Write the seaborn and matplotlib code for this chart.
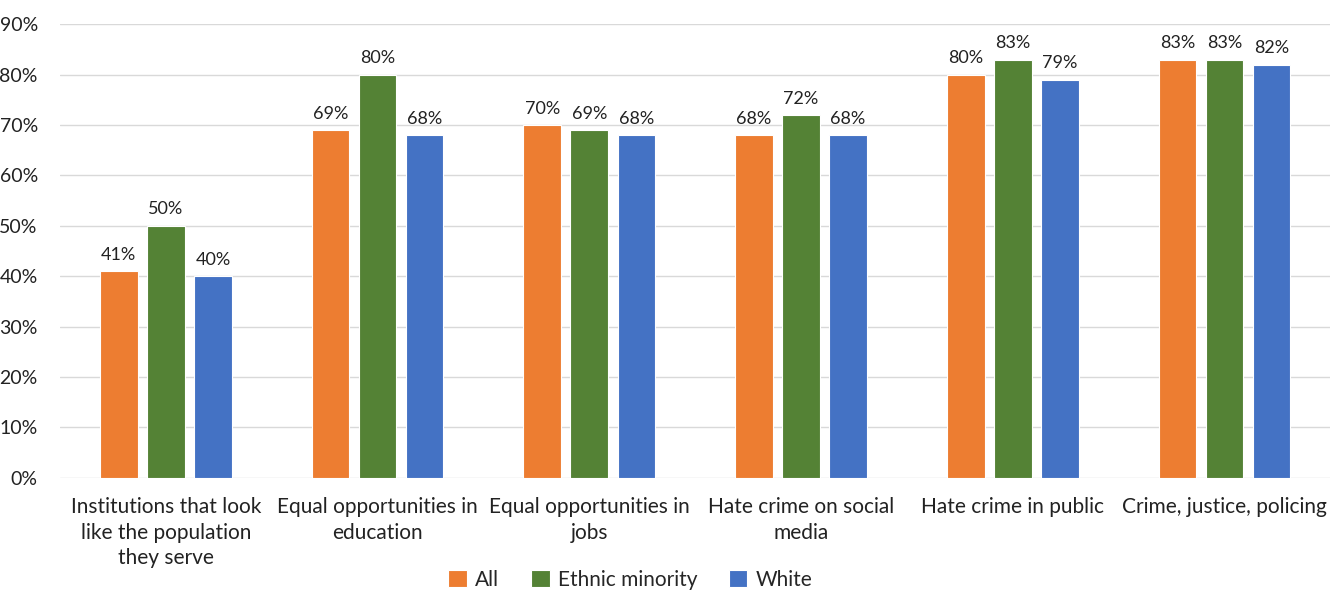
import pandas as pd
import matplotlib.pyplot as plt
import seaborn as sns
from matplotlib.ticker import PercentFormatter

categories = [
    "Institutions that look\nlike the population\nthey serve",
    "Equal opportunities in\neducation",
    "Equal opportunities in\njobs",
    "Hate crime on social\nmedia",
    "Hate crime in public",
    "Crime, justice, policing",
]
groups = ["All", "Ethnic minority", "White"]
all_vals = [41, 69, 70, 68, 80, 83]
ethnic_vals = [50, 80, 69, 72, 83, 83]
white_vals = [40, 68, 68, 68, 79, 82]
colors = ["#ED7D31", "#548235", "#4472C4"]

rows = []
for g, vals in zip(groups, [all_vals, ethnic_vals, white_vals]):
    for c, v in zip(categories, vals):
        rows.append({"category": c, "group": g, "value": v})
df = pd.DataFrame(rows)

sns.set_style("white")
plt.rcParams["font.family"] = ["Lato", "DejaVu Sans"]

fig = plt.figure(figsize=(13.33, 5.92), dpi=100)
ax = fig.add_axes([0.045, 0.193, 0.953, 0.766])

sns.barplot(data=df, x="category", y="value", hue="group", hue_order=groups,
            order=categories, palette=colors, saturation=1, width=0.667, gap=0.2,
            edgecolor="white", linewidth=0.8, ax=ax)

for cont in ax.containers:
    ax.bar_label(cont, fmt="%d%%", padding=6, fontsize=13, color="#222222")

ax.set_ylim(0, 90)
ax.set_yticks(range(0, 91, 10))
ax.yaxis.set_major_formatter(PercentFormatter(decimals=0))
ax.grid(axis="y", color="#d9d9d9", linewidth=1)
ax.set_axisbelow(True)
ax.set_xlim(-0.5, len(categories) - 0.5)
for s in ax.spines.values():
    s.set_visible(False)
ax.tick_params(axis="both", length=0, colors="#222222")
ax.tick_params(axis="y", labelsize=14, pad=16)
ax.tick_params(axis="x", labelsize=15, pad=14)
for lbl in ax.get_xticklabels():
    lbl.set_linespacing(1.35)
ax.set_xlabel("")
ax.set_ylabel("")

ax.legend(loc="center", bbox_to_anchor=(0.449, -0.225), ncol=3, frameon=False,
          fontsize=15, handlelength=0.9, handleheight=0.9, handletextpad=0.4,
          columnspacing=1.5)

plt.savefig("out.png", dpi=100)
plt.close()
